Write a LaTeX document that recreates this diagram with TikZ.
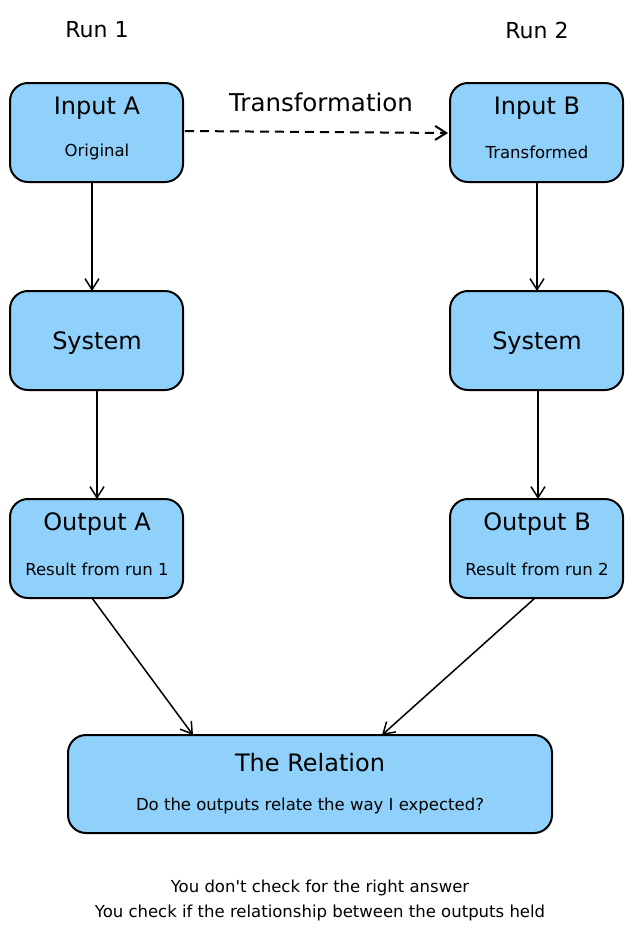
\documentclass[tikz,border=0pt]{standalone}
\usepackage{fontspec}
\newfontfamily\dvs{DejaVu Sans}
\usetikzlibrary{arrows.meta}
\definecolor{boxfill}{HTML}{90D1FB}
\begin{document}
\begin{tikzpicture}[x=1pt,y=-1pt,
  box/.style={draw=black,line width=2pt,fill=boxfill,rounded corners=18pt},
  title/.style={font=\dvs\fontsize{24}{28}\selectfont},
  sub/.style={font=\dvs\fontsize{16.5}{19}\selectfont},
  conn/.style={line width=1.5pt,-{Straight Barb[length=11pt,width=14pt]}},
  runlbl/.style={font=\dvs\fontsize{22}{26}\selectfont},
  lbl/.style={font=\dvs\fontsize{24.5}{28}\selectfont}]
\useasboundingbox[fill=white] (0,0) rectangle (633,935);
% boxes
\draw[box] (10,83) rectangle (183,182);
\draw[box] (450,83) rectangle (623,182);
\draw[box] (10,291) rectangle (183,390);
\draw[box] (450,291) rectangle (623,390);
\draw[box] (10,499) rectangle (183,598);
\draw[box] (450,499) rectangle (623,598);
\draw[box] (68,735) rectangle (552,833);
% connector end points on the boxes
\coordinate (inAb) at (92,182);  \coordinate (sysAt) at (92,291);
\coordinate (inBb) at (537,182); \coordinate (sysBt) at (537,291);
\coordinate (sysAb) at (97,390); \coordinate (outAt) at (97,499);
\coordinate (sysBb) at (538,390); \coordinate (outBt) at (538,499);
\coordinate (outAb) at (92,598); \coordinate (relAl) at (193,735);
\coordinate (outBb) at (535,598); \coordinate (relAr) at (382,735);
\coordinate (inAr) at (185,131); \coordinate (inBl) at (448,133);
% texts
\node[runlbl] (run1) at (97,30) {Run 1};
\node[runlbl] (run2) at (537,30) {Run 2};
\node[title] (inA) at (97,108) {Input A};
\node[sub] (inAs) at (97,152) {Original};
\node[title] (inB) at (537,108) {Input B};
\node[sub] (inBs) at (537,152) {Transformed};
\node[title] (sysA) at (97,343) {System};
\node[title] (sysB) at (537,343) {System};
\node[title] (outA) at (97,524) {Output A};
\node[sub] (outAs) at (97,569) {Result from run 1};
\node[title] (outB) at (537,524) {Output B};
\node[sub] (outBs) at (537,569) {Result from run 2};
\node[title] (rel) at (310,763) {The Relation};
\node[sub] (rels) at (310,806) {Do the outputs relate the way I expected?};
\node[lbl] (tr) at (321,102) {Transformation};
\node[sub] (foot1) at (320,888) {You don't check for the right answer};
\node[sub] (foot2) at (320,913) {You check if the relationship between the outputs held};
% connectors
\draw[conn,line width=2pt,dash pattern=on 9pt off 6pt] (inAr) -- (inBl);
\draw[conn] (inAb) -- (sysAt);
\draw[conn] (inBb) -- (sysBt);
\draw[conn] (sysAb) -- (outAt);
\draw[conn] (sysBb) -- (outBt);
\draw[conn] (outAb) -- (relAl);
\draw[conn] (outBb) -- (relAr);
\end{tikzpicture}
\end{document}
